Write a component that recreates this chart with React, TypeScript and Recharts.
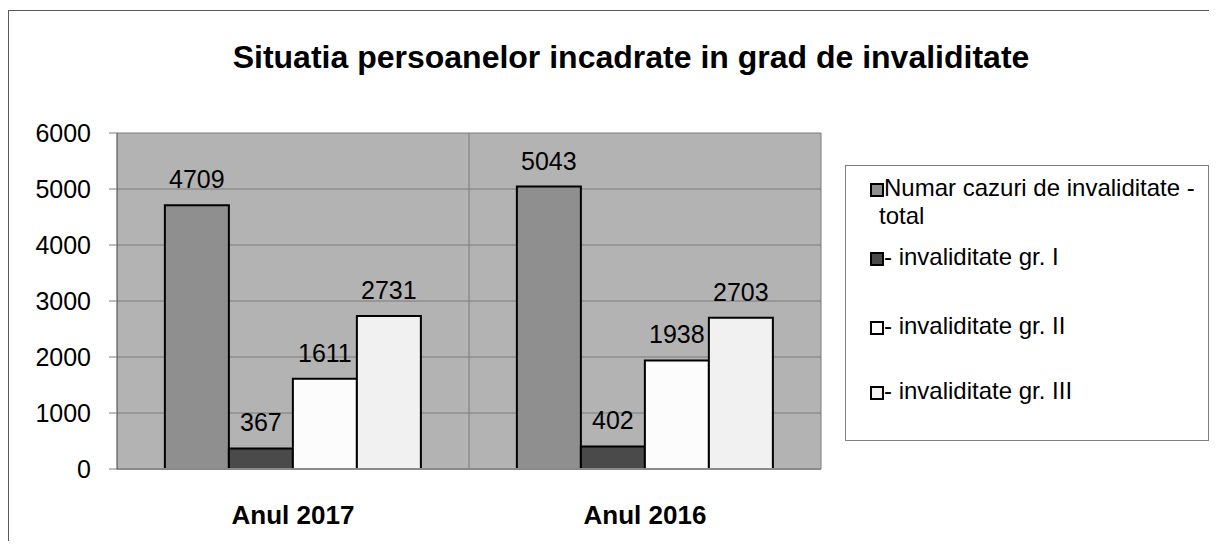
import { BarChart, Bar, XAxis, YAxis, CartesianGrid, LabelList } from 'recharts';

const categories = ['Anul 2017', 'Anul 2016'];
const totalCases = [4709, 5043];
const gradeOne = [367, 402];
const gradeTwo = [1611, 1938];
const gradeThree = [2731, 2703];
const yTicks = [0, 1000, 2000, 3000, 4000, 5000, 6000];

const SERIES = [
  { key: 'total', name: 'Numar cazuri de invaliditate - total', color: '#8f8f8f', values: totalCases },
  { key: 'gr1', name: '- invaliditate gr. I', color: '#4a4a4a', values: gradeOne },
  { key: 'gr2', name: '- invaliditate gr. II', color: '#fcfcfc', values: gradeTwo },
  { key: 'gr3', name: '- invaliditate gr. III', color: '#f1f1f1', values: gradeThree },
];

const data = categories.map((name, i) => {
  const row: Record<string, string | number> = { name };
  SERIES.forEach((s) => { row[s.key] = s.values[i]; });
  return row;
});

// no scrollbars in the screenshot
if (typeof document !== 'undefined') {
  document.documentElement.style.overflow = 'hidden';
  document.body.style.overflow = 'hidden';
}

const FONT = '"Liberation Sans", Arial, sans-serif';
// top offset of each legend entry inside the box
const LEGEND_TOPS = [8, 77, 146, 211];

function LegendBox() {
  return (
    <div
      style={{
        position: 'absolute', left: 836, top: 154, width: 362, height: 274,
        border: '1px solid #808080', background: '#fff',
      }}
    >
      {SERIES.map((s, i) => (
        <div
          key={s.key}
          style={{
            position: 'absolute', left: 33, top: LEGEND_TOPS[i], width: 327,
            fontSize: 24, lineHeight: '28px', color: '#000',
          }}
        >
          <span
            style={{
              display: 'inline-block', width: 10, height: 10, marginLeft: -9, marginRight: 0,
              border: '2px solid #000', background: s.color, verticalAlign: -1,
            }}
          />
          {s.name}
        </div>
      ))}
    </div>
  );
}

export default function App() {
  return (
    <div
      style={{
        position: 'relative', width: 1208, height: 530, marginTop: 2,
        borderLeft: '1px solid #5a5a5a', borderTop: '1px solid #5a5a5a', fontFamily: FONT,
      }}
    >
      <div
        style={{
          position: 'absolute', left: 222, top: 28, width: 800, textAlign: 'center', whiteSpace: 'nowrap',
          fontSize: 32, lineHeight: '36px', fontWeight: 'bold', color: '#000',
        }}
      >
        Situatia persoanelor incadrate in grad de invaliditate
      </div>
      <BarChart
        width={1200}
        height={530}
        data={data}
        margin={{ top: 122, right: 388, bottom: 12, left: 0 }}
        barCategoryGap="13.6%"
        barGap={0}
        style={{ fontFamily: FONT }}
      >
        <CartesianGrid
          fill="#b3b3b3"
          stroke="#7a7a7a"
          strokeWidth={1}
          verticalCoordinatesGenerator={({ offset }: any) => [offset.left + offset.width / 2, offset.left + offset.width]}
        />
        <XAxis
          dataKey="name"
          height={60}
          tickLine={false}
          axisLine={{ stroke: '#8a8a8a', strokeWidth: 2 }}
          tickMargin={31}
          tick={{ fill: '#000', fontSize: 26, fontWeight: 'bold' }}
        />
        <YAxis
          width={108}
          domain={[0, 6000]}
          ticks={yTicks}
          interval={0}
          tickSize={8}
          tickMargin={18}
          axisLine={{ stroke: '#404040', strokeWidth: 1 }}
          tickLine={{ stroke: '#7a7a7a' }}
          tick={{ fill: '#000', fontSize: 25 }}
        />
        {SERIES.map((s) => (
          <Bar
            key={s.key}
            dataKey={s.key}
            name={s.name}
            fill={s.color}
            stroke="#000"
            strokeWidth={2}
            isAnimationActive={false}
          >
            <LabelList dataKey={s.key} position="top" offset={17} fill="#000" fontSize={25} />
          </Bar>
        ))}
      </BarChart>
      <LegendBox />
    </div>
  );
}
